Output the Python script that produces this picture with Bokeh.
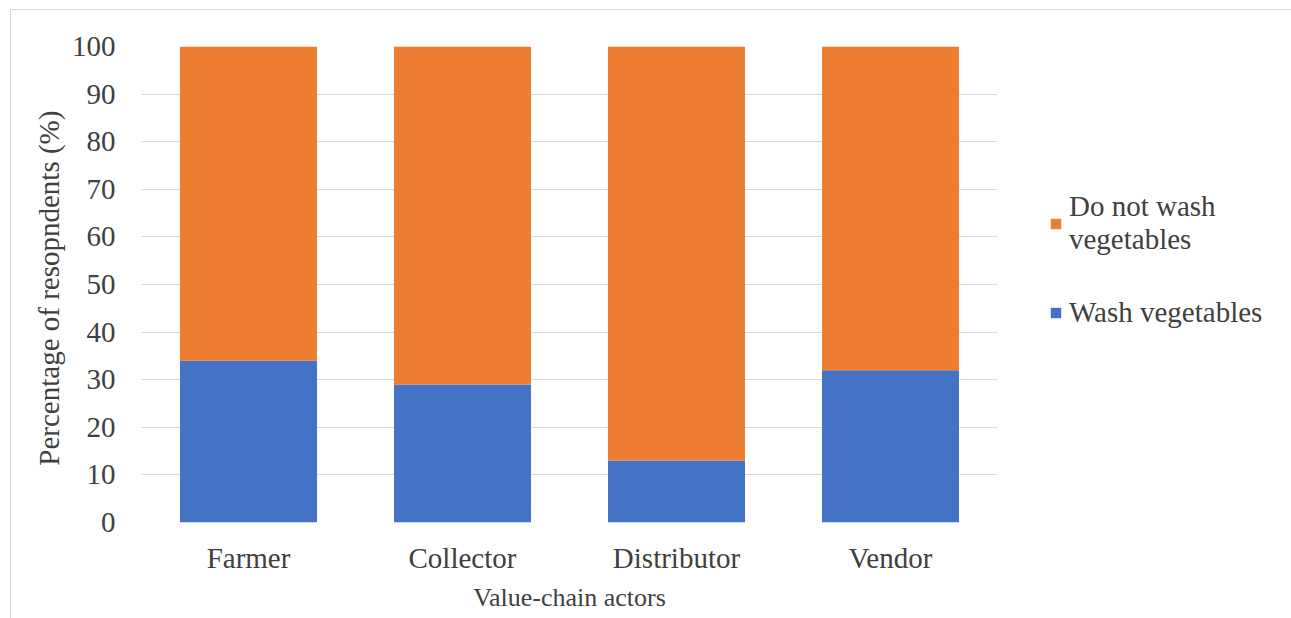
from bokeh.plotting import figure
from bokeh.models import Legend, LegendItem, Range1d, FactorRange, SingleIntervalTicker
from bokeh.embed import file_html
from bokeh.resources import INLINE

# Share of respondents per value-chain actor (%)
actors = ["Farmer", "Collector", "Distributor", "Vendor"]
wash = [34, 29, 13, 32]
not_wash = [66, 71, 87, 68]

series = ["wash", "not_wash"]
series_labels = ["Wash vegetables", "Do not wash\nvegetables"]
colors = ["#4472C4", "#ED7D31"]

FONT = "'Liberation Serif', 'Times New Roman', serif"
TEXT = "#404040"
GRID = "#d9d9d9"

p = figure(
    x_range=FactorRange(factors=actors, range_padding=0),
    y_range=Range1d(0, 100),
    frame_width=856, frame_height=476,
    output_backend="svg", toolbar_location=None,
    min_border_left=130, min_border_right=294,
    min_border_top=36, min_border_bottom=97,
)
p.margin = (9, 0, 0, 10)
p.styles = {
    "border-top": "1px solid #d9d9d9",
    "border-left": "1px solid #d9d9d9",
    "border-right": "1px solid #d9d9d9",
}
p.outline_line_color = None

src = dict(actors=actors, wash=wash, not_wash=not_wash)
rs = p.vbar_stack(series, x="actors", width=0.64, color=colors,
                  line_color=None, source=src)

# axes
p.yaxis.ticker = SingleIntervalTicker(interval=10)
p.yaxis.axis_label = "Percentage of  resopndents (%)"
p.xaxis.axis_label = "Value-chain actors"
for ax in (p.xaxis, p.yaxis):
    ax.axis_line_color = None
    ax.major_tick_line_color = None
    ax.minor_tick_line_color = None
    ax.major_label_text_font = FONT
    ax.major_label_text_font_size = "29px"
    ax.major_label_text_color = TEXT
    ax.axis_label_text_font = FONT
    ax.axis_label_text_font_style = "normal"
    ax.axis_label_text_color = TEXT
p.yaxis.axis_label_text_font_size = "29px"
p.xaxis.axis_label_text_font_size = "26px"
p.yaxis.major_label_standoff = 20
p.yaxis.axis_label_standoff = 4
p.xaxis.major_label_standoff = 13
p.xaxis.axis_label_standoff = 6

p.xgrid.grid_line_color = None
p.ygrid.grid_line_color = GRID
p.ygrid.grid_line_width = 1

# legend sits to the right of the plotting area
legend = Legend(
    items=[
        LegendItem(label=series_labels[1], renderers=[rs[1]]),
        LegendItem(label=series_labels[0], renderers=[rs[0]]),
    ],
    location=(52, 193),
    label_text_font=FONT,
    label_text_font_size="29px",
    label_text_line_height=1.35,
    label_text_color=TEXT,
    glyph_width=13, glyph_height=13,
    label_standoff=7,
    spacing=40,
    border_line_color=None,
    background_fill_alpha=0,
    margin=0,
    padding=0,
)
p.add_layout(legend, "right")

open("out.html", "w").write(file_html(p, INLINE))
